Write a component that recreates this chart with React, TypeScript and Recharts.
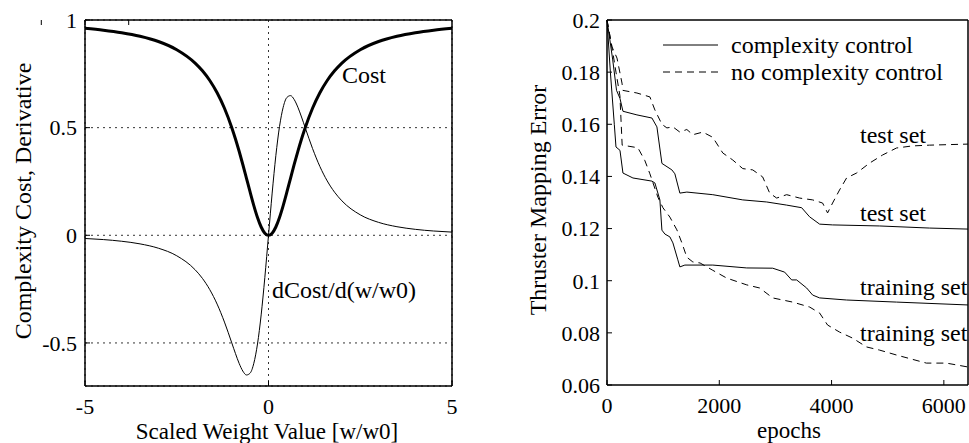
import { LineChart, Line, XAxis, YAxis, CartesianGrid } from "recharts";

// left panel: weight-elimination cost and its derivative
const weights = [
  -5, -4.5, -4, -3.5, -3, -2.5, -2, -1.8, -1.6, -1.4, -1.2, -1, -0.9, -0.8, -0.7, -0.6, -0.5, -0.4, -0.3, -0.2, -0.1,
  0, 0.1, 0.2, 0.3, 0.4, 0.5, 0.6, 0.7, 0.8, 0.9, 1, 1.2, 1.4, 1.6, 1.8, 2, 2.5, 3, 3.5, 4, 4.5, 5,
];
const cost = [
  0.9615, 0.9529, 0.9412, 0.9245, 0.9, 0.8621, 0.8, 0.7642, 0.7191, 0.6622, 0.5902, 0.5, 0.4475, 0.3902, 0.3289,
  0.2647, 0.2, 0.1379, 0.0826, 0.0385, 0.0099, 0, 0.0099, 0.0385, 0.0826, 0.1379, 0.2, 0.2647, 0.3289, 0.3902,
  0.4475, 0.5, 0.5902, 0.6622, 0.7191, 0.7642, 0.8, 0.8621, 0.9, 0.9245, 0.9412, 0.9529, 0.9615,
];
const deriv = [
  -0.0148, -0.0199, -0.0277, -0.0399, -0.06, -0.0951, -0.16, -0.2002, -0.2525, -0.3196, -0.4031, -0.5, -0.5494,
  -0.5949, -0.6306, -0.6488, -0.64, -0.5945, -0.505, -0.3698, -0.1961, 0, 0.1961, 0.3698, 0.505, 0.5945, 0.64,
  0.6488, 0.6306, 0.5949, 0.5494, 0.5, 0.4031, 0.3196, 0.2525, 0.2002, 0.16, 0.0951, 0.06, 0.0399, 0.0277, 0.0199,
  0.0148,
];
const weightTicks = [-5, 0, 5];
const costTicks = [-0.5, 0, 0.5, 1];

// right panel: thruster mapping error vs epochs
const ccTestEpochs = [0, 100, 170, 230, 284, 533, 800, 889, 978, 1156, 1209, 1298, 1422, 1884, 2418, 2844, 3200, 3467, 3609, 3787, 4018, 4853, 5742, 6430];
const ccTestErr = [0.2, 0.185, 0.173, 0.17, 0.165, 0.1636, 0.1624, 0.159, 0.145, 0.1425, 0.141, 0.1336, 0.134, 0.133, 0.131, 0.1302, 0.129, 0.128, 0.1245, 0.1217, 0.1214, 0.121, 0.1202, 0.1198];

const ccTrainEpochs = [0, 60, 130, 160, 231, 284, 462, 800, 853, 942, 978, 1031, 1120, 1174, 1262, 1298, 1387, 1884, 2489, 2951, 3164, 3289, 3378, 3556, 3663, 3787, 4267, 5156, 6430];
const ccTrainErr = [0.2, 0.18, 0.16, 0.1513, 0.15, 0.1413, 0.1394, 0.1382, 0.1375, 0.131, 0.1194, 0.1179, 0.1168, 0.1145, 0.108, 0.1053, 0.106, 0.106, 0.1049, 0.1048, 0.1033, 0.1003, 0.1003, 0.0972, 0.0945, 0.0934, 0.0926, 0.0918, 0.0907];

const ncTestEpochs = [0, 89, 178, 267, 284, 533, 764, 853, 978, 1067, 1174, 1298, 1422, 1529, 1707, 1884, 2062, 2240, 2418, 2596, 2773, 2898, 3022, 3200, 3431, 3663, 3840, 3929, 4018, 4142, 4267, 4445, 4676, 4907, 5156, 5440, 5742, 6430];
const ncTestErr = [0.2, 0.1897, 0.1854, 0.1758, 0.173, 0.172, 0.1705, 0.1655, 0.16, 0.1586, 0.159, 0.157, 0.158, 0.156, 0.157, 0.155, 0.149, 0.1463, 0.143, 0.1425, 0.1398, 0.1336, 0.1317, 0.133, 0.1317, 0.131, 0.1298, 0.126, 0.1298, 0.1348, 0.1394, 0.1413, 0.1451, 0.1482, 0.1509, 0.1517, 0.152, 0.1524];

const ncTrainEpochs = [0, 100, 160, 230, 270, 550, 676, 764, 907, 996, 1120, 1245, 1334, 1422, 1529, 1658, 1884, 2133, 2489, 2720, 2951, 3307, 3609, 3787, 3929, 4142, 4373, 4622, 4853, 5156, 5689, 6045, 6430];
const ncTrainErr = [0.2, 0.188, 0.18, 0.171, 0.152, 0.151, 0.146, 0.141, 0.132, 0.128, 0.1244, 0.1195, 0.1145, 0.109, 0.1072, 0.1068, 0.104, 0.101, 0.0984, 0.0972, 0.0934, 0.0918, 0.0899, 0.0876, 0.083, 0.0803, 0.078, 0.0746, 0.0734, 0.0715, 0.0684, 0.0684, 0.0669];

const epochTicks = [0, 2000, 4000, 6000];
const errTicks = [0.06, 0.08, 0.1, 0.12, 0.14, 0.16, 0.18, 0.2];

const FONT = "'Liberation Serif', 'Times New Roman', serif";
const tickStyle = { fontSize: 22, fill: "#000", fontFamily: FONT };
const axisLine = { stroke: "#000", strokeWidth: 1.5 };
const tickLine = { stroke: "#000", strokeWidth: 1 };
const blank = () => "";

const toRows = (xs: number[], ys: number[]) => xs.map((x, i) => ({ x, y: ys[i] }));

const costRows = weights.map((w, i) => ({ w, cost: cost[i], deriv: deriv[i] }));

function CostChart() {
  return (
    <LineChart width={470} height={443} data={costRows} margin={{ top: 19, right: 17, bottom: 56, left: 84 }}>
      <CartesianGrid stroke="#000" strokeWidth={0.8} strokeDasharray="2 4" />
      <XAxis
        dataKey="w"
        type="number"
        domain={[-5, 5]}
        ticks={weightTicks}
        height={1}
        tick={tickStyle}
        axisLine={axisLine}
        tickLine={tickLine}
        tickSize={-5}
        tickMargin={17}
      />
      <XAxis xAxisId="top" orientation="top" type="number" domain={[-5, 5]} ticks={weightTicks} height={1}
        tickFormatter={blank} axisLine={axisLine} tickLine={tickLine} tickSize={-5} />
      <YAxis
        type="number"
        domain={[-0.7, 1]}
        ticks={costTicks}
        width={1}
        tick={tickStyle}
        axisLine={axisLine}
        tickLine={tickLine}
        tickSize={-5}
        tickMargin={13}
      />
      <YAxis yAxisId="right" orientation="right" type="number" domain={[-0.7, 1]} ticks={costTicks} width={1}
        tickFormatter={blank} axisLine={axisLine} tickLine={tickLine} tickSize={-5} />
      <Line dataKey="deriv" type="monotone" stroke="#000" strokeWidth={1} dot={false} isAnimationActive={false} />
      <Line dataKey="cost" type="monotone" stroke="#000" strokeWidth={3} dot={false} isAnimationActive={false} />
    </LineChart>
  );
}

function ErrorChart() {
  const common = { type: "linear" as const, dataKey: "y", stroke: "#000", strokeWidth: 1, dot: false, isAnimationActive: false };
  return (
    <LineChart width={489} height={443} margin={{ top: 19, right: 0, bottom: 57, left: 126 }}>
      <XAxis
        dataKey="x"
        type="number"
        domain={[0, 6430]}
        ticks={epochTicks}
        height={1}
        tick={tickStyle}
        axisLine={axisLine}
        tickLine={tickLine}
        tickSize={-5}
        tickMargin={17}
        allowDuplicatedCategory={false}
      />
      <XAxis xAxisId="top" orientation="top" type="number" domain={[0, 6430]} ticks={epochTicks} height={1}
        tickFormatter={blank} axisLine={axisLine} tickLine={tickLine} tickSize={-5} />
      <YAxis
        type="number"
        domain={[0.06, 0.2]}
        ticks={errTicks}
        width={1}
        tick={tickStyle}
        axisLine={axisLine}
        tickLine={tickLine}
        tickSize={-5}
        tickMargin={12}
      />
      <YAxis yAxisId="right" orientation="right" type="number" domain={[0.06, 0.2]} ticks={errTicks} width={1}
        tickFormatter={blank} axisLine={axisLine} tickLine={tickLine} tickSize={-5} />
      <Line {...common} data={toRows(ccTestEpochs, ccTestErr)} />
      <Line {...common} data={toRows(ccTrainEpochs, ccTrainErr)} />
      <Line {...common} data={toRows(ncTestEpochs, ncTestErr)} strokeDasharray="7 5" />
      <Line {...common} data={toRows(ncTrainEpochs, ncTrainErr)} strokeDasharray="7 5" />
    </LineChart>
  );
}

function Annotations() {
  const t = { fontFamily: FONT, fontSize: 24, fill: "#000", dominantBaseline: "central" as const };
  return (
    <svg width={969} height={443} style={{ position: "absolute", left: 0, top: 0, pointerEvents: "none" }}>
      <text {...t} textAnchor="middle" transform="translate(23 201) rotate(-90)">Complexity Cost, Derivative</text>
      <text {...t} textAnchor="middle" x={267} y={431} fontSize={23}>Scaled Weight Value [w/w0]</text>
      <text {...t} x={342} y={75}>Cost</text>
      <text {...t} x={272} y={290}>dCost/d(w/w0)</text>

      <text {...t} textAnchor="middle" transform="translate(538 200) rotate(-90)">Thruster Mapping Error</text>
      <text {...t} textAnchor="middle" x={789} y={430} fontSize={23}>epochs</text>

      <line x1={663} x2={718} y1={45} y2={45} stroke="#000" strokeWidth={1} />
      <line x1={663} x2={718} y1={72} y2={72} stroke="#000" strokeWidth={1} strokeDasharray="7 5" />
      <text {...t} x={731} y={45}>complexity control</text>
      <text {...t} x={731} y={72}>no complexity control</text>

      <text {...t} x={860} y={135}>test set</text>
      <text {...t} x={860} y={213}>test set</text>
      <text {...t} x={860} y={287}>training set</text>
      <text {...t} x={860} y={333}>training set</text>
    </svg>
  );
}

export default function App() {
  return (
    <div style={{ position: "absolute", left: 0, top: 0, width: 969, height: 443, background: "#fff", overflow: "hidden" }}>
      <div style={{ position: "absolute", left: 0, top: 0 }}>
        <CostChart />
      </div>
      <div style={{ position: "absolute", left: 480, top: 0 }}>
        <ErrorChart />
      </div>
      <Annotations />
    </div>
  );
}
